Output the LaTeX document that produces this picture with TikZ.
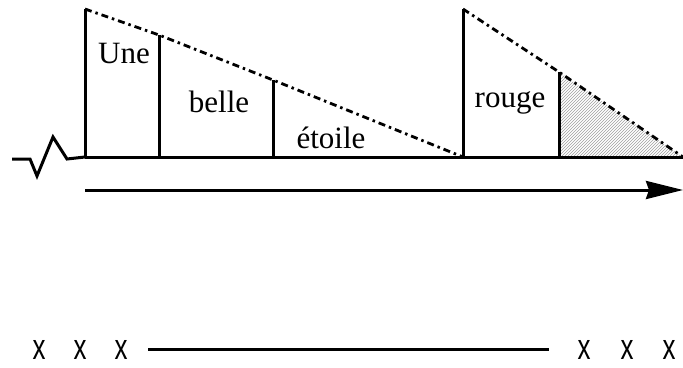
\documentclass[tikz,border=0pt]{standalone}
\usepackage{fontspec}
\setmainfont{Liberation Serif}
\setsansfont{Liberation Sans}
\usetikzlibrary{arrows.meta,patterns}

\begin{document}
\begin{tikzpicture}[x=1pt,y=-1pt,line width=3pt,
  every node/.style={font=\fontsize{31}{36}\selectfont,inner sep=0pt},
  trace/.style={dash pattern=on 7pt off 4pt on 2.5pt off 4pt,line width=2.8pt},
  croix/.style={font=\sffamily\fontsize{36}{40}\selectfont,xscale=0.72}]

\useasboundingbox (0,0) rectangle (683,367);

\coordinate (b1) at (85,157);  \coordinate (t1) at (85,9);
\coordinate (b2) at (159,157); \coordinate (t2) at (159,35);
\coordinate (b3) at (273,157); \coordinate (t3) at (273,80);
\coordinate (b4) at (463,157); \coordinate (t4) at (463,9);
\coordinate (b5) at (559,157); \coordinate (t5) at (559,72);
\coordinate (fin) at (683,157);

\fill[pattern=north east lines,pattern color=gray!75] (t5)--(b5)--(fin)--cycle;

\draw (b1)--(fin);
\draw (b1)--(t1);
\draw (b2)--(t2);
\draw (b3)--(t3);
\draw (b4)--(t4);
\draw (b5)--(t5);

\draw[trace] (t1)--(t2)--(t3)--(b4);
\draw[trace] (t4)--(t5)--(fin);

% le zigzag a gauche
\draw[line join=miter] (12,159)--(30,159)--(37,176)--(53,137)--(67,159)--(b1);

\node[anchor=base] (une) at (124,63) {Une};
\node[anchor=base] (belle) at (219,112) {belle};
\node[anchor=base] (etoile) at (331,148) {étoile};
\node[anchor=base] (rouge) at (510,107) {rouge};

\coordinate (a0) at (85,190);
\coordinate (a1) at (683,190);
\draw[-{Stealth[length=37pt,width=18pt,inset=3pt]}] (a0)--(a1);

\node[croix] (x1) at (39,350) {x};
\node[croix] (x2) at (80,350) {x};
\node[croix] (x3) at (121,350) {x};
\node[croix] (x4) at (584,350) {x};
\node[croix] (x5) at (627,350) {x};
\node[croix] (x6) at (669,350) {x};
\coordinate (l0) at (148,349);
\coordinate (l1) at (549,349);
\draw (l0)--(l1);
\end{tikzpicture}
\end{document}
